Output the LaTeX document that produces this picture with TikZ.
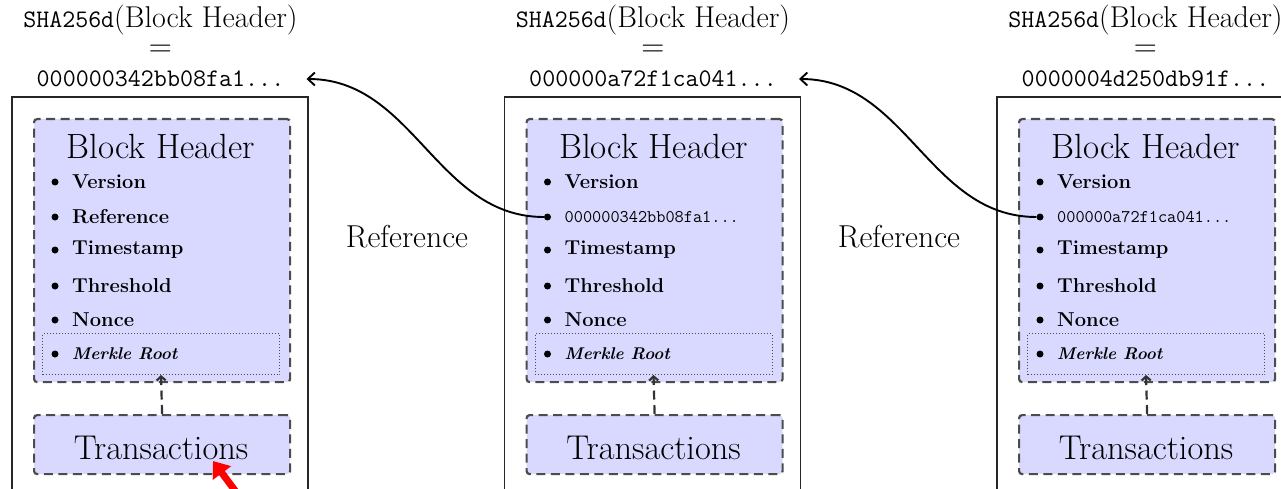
\documentclass[tikz,border=0pt]{standalone}
\usepackage{fontspec}
\usetikzlibrary{arrows.meta}
\tikzset{
  outerbox/.style={draw=black!85, line width=1.8},
  dashbox/.style={draw=black!70, fill=blue!15, line width=2.2, dash pattern=on 9pt off 5.5pt, rounded corners=3, inner sep=0},
  dotbox/.style={draw=black!70, line width=1, dotted, inner sep=0},
  titletext/.style={inner sep=0, font=\fontsize{30.1}{34}\selectfont},
  eqtext/.style={inner sep=0, font=\fontsize{32}{34}\selectfont},
  hashtext/.style={inner ysep=2, inner xsep=22, font=\fontsize{25.3}{28}\selectfont\ttfamily},
  hdrtext/.style={inner sep=0, font=\fontsize{35}{40}\selectfont},
  trtext/.style={inner sep=0, font=\fontsize{34.4}{40}\selectfont},
  itemtext/.style={anchor=west, inner sep=0, font=\fontsize{20.1}{22}\selectfont\bfseries},
  itemhash/.style={anchor=west, inner sep=0, font=\fontsize{17.8}{20}\selectfont\ttfamily},
  merkletext/.style={anchor=west, inner sep=0, font=\fontsize{17}{20}\selectfont\bfseries\itshape},
  bul/.style={circle, fill=black, inner sep=0, minimum size=7},
  reftext/.style={inner sep=0, font=\fontsize{31.7}{36}\selectfont},
  refarrow/.style={draw=black, line width=1.9, -{Straight Barb[length=7pt,width=13pt]}},
  dasharrow/.style={draw=black!80, line width=2.2, dash pattern=on 9pt off 5.5pt, -{Straight Barb[length=4pt,width=9pt]}},
  redarrow/.style={draw=red, line width=7, -{Triangle[length=15pt,width=22pt]}}
}
\begin{document}
\begin{tikzpicture}[x=1pt,y=-1pt]
  \useasboundingbox (0,0) rectangle (1281,489);
  \clip (0,0) rectangle (1281,489);
  \begin{scope}[xshift=0pt]
    \node[titletext] (t1) at (160.5,20) {{\fontsize{25.2}{28}\selectfont\ttfamily SHA256d}(Block Header)};
    \node[eqtext] (e1) at (160.5,51) {=};
    \node[hashtext] (h1) at (160.5,79) {000000342bb08fa1...};
    \draw[outerbox] (12,500) |- (308,97) -- (308,500);
    \node[dashbox, minimum width=256pt, minimum height=263pt, anchor=north west] (hdr1) at (33,118) {};
    \node[hdrtext] (bh1) at (161,146) {Block Header};
    \node[bul] (b1-1) at (55,182) {};
    \node[itemtext] (i1-1) at (72,182) {Version};
    \node[bul] (b1-2) at (55,217) {};
    \node[itemtext] (i1-2) at (72,217) {Reference};
    \node[bul] (b1-3) at (55,250) {};
    \node[itemtext] (i1-3) at (72,250) {Timestamp};
    \node[bul] (b1-4) at (55,286) {};
    \node[itemtext] (i1-4) at (72,286) {Threshold};
    \node[bul] (b1-5) at (55,320) {};
    \node[itemtext] (i1-5) at (72,320) {Nonce};
    \node[dotbox, minimum width=237pt, minimum height=41pt, anchor=north west] (mb1) at (42,333) {};
    \node[bul] (b1-6) at (55,354) {};
    \node[merkletext] (i1-6) at (72,354) {Merkle Root};
    \node[dashbox, minimum width=256pt, minimum height=59pt, anchor=north west] (tr1) at (33,414) {};
    \node[trtext] (tt1) at (161,448) {Transactions};
    \draw[dasharrow] (tr1.north) -- (mb1.south);
  \end{scope}
  \begin{scope}[xshift=492.5pt]
    \node[titletext] (t2) at (160.5,20) {{\fontsize{25.2}{28}\selectfont\ttfamily SHA256d}(Block Header)};
    \node[eqtext] (e2) at (160.5,51) {=};
    \node[hashtext] (h2) at (160.5,79) {000000a72f1ca041...};
    \draw[outerbox] (12,500) |- (308,97) -- (308,500);
    \node[dashbox, minimum width=256pt, minimum height=263pt, anchor=north west] (hdr2) at (33,118) {};
    \node[hdrtext] (bh2) at (161,146) {Block Header};
    \node[bul] (b2-1) at (55,182) {};
    \node[itemtext] (i2-1) at (72,182) {Version};
    \node[bul] (b2-2) at (55,217) {};
    \node[itemhash] (i2-2) at (72,217) {000000342bb08fa1...};
    \node[bul] (b2-3) at (55,250) {};
    \node[itemtext] (i2-3) at (72,250) {Timestamp};
    \node[bul] (b2-4) at (55,286) {};
    \node[itemtext] (i2-4) at (72,286) {Threshold};
    \node[bul] (b2-5) at (55,320) {};
    \node[itemtext] (i2-5) at (72,320) {Nonce};
    \node[dotbox, minimum width=237pt, minimum height=41pt, anchor=north west] (mb2) at (42,333) {};
    \node[bul] (b2-6) at (55,354) {};
    \node[merkletext] (i2-6) at (72,354) {Merkle Root};
    \node[dashbox, minimum width=256pt, minimum height=59pt, anchor=north west] (tr2) at (33,414) {};
    \node[trtext] (tt2) at (161,448) {Transactions};
    \draw[dasharrow] (tr2.north) -- (mb2.south);
  \end{scope}
  \begin{scope}[xshift=985pt]
    \node[titletext] (t3) at (160.5,20) {{\fontsize{25.2}{28}\selectfont\ttfamily SHA256d}(Block Header)};
    \node[eqtext] (e3) at (160.5,51) {=};
    \node[hashtext] (h3) at (160.5,79) {0000004d250db91f...};
    \draw[outerbox] (12,500) |- (308,97) -- (308,500);
    \node[dashbox, minimum width=256pt, minimum height=263pt, anchor=north west] (hdr3) at (33,118) {};
    \node[hdrtext] (bh3) at (161,146) {Block Header};
    \node[bul] (b3-1) at (55,182) {};
    \node[itemtext] (i3-1) at (72,182) {Version};
    \node[bul] (b3-2) at (55,217) {};
    \node[itemhash] (i3-2) at (72,217) {000000a72f1ca041...};
    \node[bul] (b3-3) at (55,250) {};
    \node[itemtext] (i3-3) at (72,250) {Timestamp};
    \node[bul] (b3-4) at (55,286) {};
    \node[itemtext] (i3-4) at (72,286) {Threshold};
    \node[bul] (b3-5) at (55,320) {};
    \node[itemtext] (i3-5) at (72,320) {Nonce};
    \node[dotbox, minimum width=237pt, minimum height=41pt, anchor=north west] (mb3) at (42,333) {};
    \node[bul] (b3-6) at (55,354) {};
    \node[merkletext] (i3-6) at (72,354) {Merkle Root};
    \node[dashbox, minimum width=256pt, minimum height=59pt, anchor=north west] (tr3) at (33,414) {};
    \node[trtext] (tt3) at (161,448) {Transactions};
    \draw[dasharrow] (tr3.north) -- (mb3.south);
  \end{scope}
  \node[reftext] (r1) at (407,237) {Reference};
  \node[reftext] (r2) at (899,237) {Reference};
  \draw[refarrow] (b2-2.west) to[out=180,in=0] (h1.east);
  \draw[refarrow] (b3-2.west) to[out=180,in=0] (h2.east);
  \coordinate (redtail) at (242,500);
  \coordinate (redtip) at (213,461);
  \draw[redarrow] (redtail) -- (redtip);
\end{tikzpicture}
\end{document}
